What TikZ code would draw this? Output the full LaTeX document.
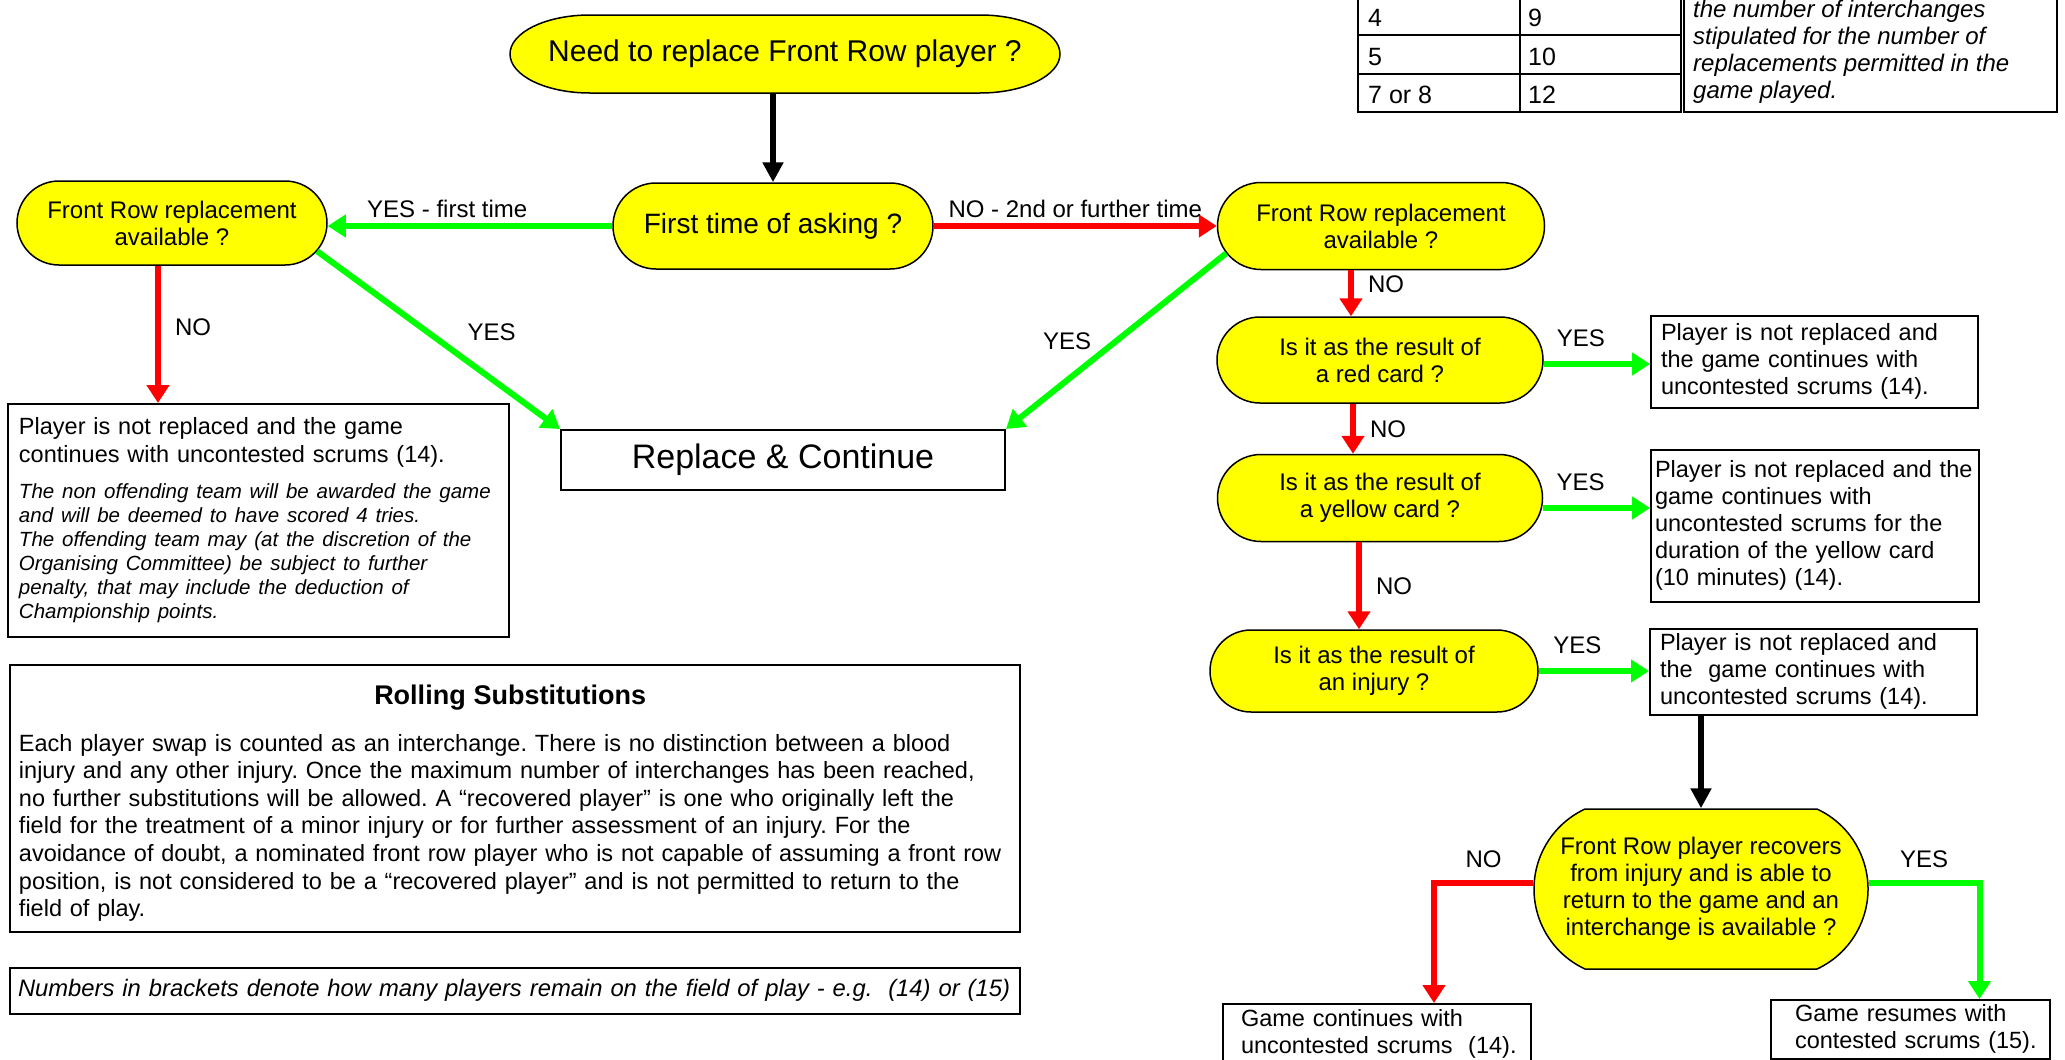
\documentclass[tikz,border=0pt]{standalone}
\usepackage{fontspec}
\setmainfont{Liberation Sans}
\usetikzlibrary{arrows.meta, shapes.misc, positioning}
\definecolor{flowyellow}{RGB}{255,255,0}
\definecolor{flowgreen}{RGB}{0,255,0}
\definecolor{flowred}{RGB}{255,0,0}
\newcommand{\fs}[2]{\fontsize{#1}{#2}\selectfont}
\newcommand{\boxlines}[1]{\begin{tabular}[t]{@{}l@{}}#1\end{tabular}}
\frenchspacing
\tikzset{
  question/.style={rounded rectangle, draw=black, line width=1.5pt, fill=flowyellow, align=center, inner sep=0pt, font={\fs{24}{27}}},
  infobox/.style={rectangle, draw=black, line width=2pt, fill=white, align=left, inner ysep=0pt, font={\fs{23.5}{27}}},
  answer/.style={inner sep=2pt, font={\fs{24}{27}}},
  yesarrow/.style={draw=flowgreen, line width=6pt, -{Triangle[length=18pt, width=22pt]}},
  noarrow/.style={draw=flowred, line width=6pt, -{Triangle[length=18pt, width=22pt]}},
  goarrow/.style={draw=black, line width=6pt, -{Triangle[length=20pt, width=20pt]}},
  tableline/.style={draw=black, line width=2pt}
}

\begin{document}
\begin{tikzpicture}[x=1pt, y=-1pt]
    \useasboundingbox (0,0) rectangle (2065,1060);

    % Prima domanda (estremi ellittici)
    \pgfmathsetmacro{\needl}{590}
    \pgfmathsetmacro{\needr}{980}
    \filldraw[draw=black, line width=1.5pt, fill=flowyellow] (\needl,15) -- (\needr,15) arc[start angle=90, end angle=-90, x radius=80pt, y radius=39pt] -- (\needl,93) arc[start angle=270, end angle=90, x radius=80pt, y radius=39pt] -- cycle;
    \node[minimum width=550pt, minimum height=78pt, inner sep=0pt, font={\fs{30}{34}}] (need) at (785,54) {Need to replace Front Row player ?};

    % Domande
    \node[question, minimum width=320pt, minimum height=86pt, font={\fs{28}{32}}] (first) at (773,226) {First time of asking ?};
    \node[question, minimum width=310pt, minimum height=84pt] (frl) at (172,223) {Front Row replacement\\available ?};
    \node[question, minimum width=327pt, minimum height=87pt] (frr) at (1381,226) {Front Row replacement\\available ?};
    \node[question, minimum width=326pt, minimum height=86pt] (redq) at (1380,360) {Is it as the result of\\a red card ?};
    \node[question, minimum width=325pt, minimum height=87pt] (yellowq) at (1380,498) {Is it as the result of\\a yellow card ?};
    \node[question, minimum width=328pt, minimum height=82pt] (injuryq) at (1374,671) {Is it as the result of\\an injury ?};
    \node[question, rounded rectangle arc length=130, minimum width=334pt, minimum height=160pt] (recover) at (1701,889) {Front Row player recovers\\from injury and is able to\\return to the game and an\\interchange is available ?};

    % Riquadri
    \node[infobox, align=center, minimum width=444pt, minimum height=60pt, font={\fs{34}{38}}] (replace) at (783,460) {Replace \& Continue};
    \node[infobox, anchor=north west, inner xsep=11pt, text width=479pt, minimum height=233pt, font={\fs{23.5}{28}}] (leftbox) at (7,403) {\boxlines{Player is not replaced and the game\\continues with uncontested scrums (14).}\par\vspace{10pt}\itshape\fs{20.5}{24}\boxlines{The non offending team will be awarded the game\\and will be deemed to have scored 4 tries.\\The offending team may (at the discretion of the\\Organising Committee) be subject to further\\penalty, that may include the deduction of\\Championship points.}\par};
    \node[infobox, anchor=north west, inner xsep=10pt, text width=307pt, minimum height=92pt] (box1) at (1650,315) {\boxlines{Player is not replaced and\\the game continues with\\uncontested scrums (14).}};
    \node[infobox, anchor=north west, inner xsep=4pt, text width=320pt, minimum height=152pt] (box2) at (1650,449) {\boxlines{Player is not replaced and the\\game continues with\\uncontested scrums for the\\duration of the yellow card\\(10 minutes) (14).}};
    \node[infobox, anchor=north west, inner xsep=10pt, text width=307pt, minimum height=86pt] (box3) at (1649,628) {\boxlines{Player is not replaced and\\the\ \ game continues with\\uncontested scrums (14).}};
    \node[infobox, anchor=north west, inner xsep=18pt, text width=272pt, minimum height=62pt] (botl) at (1222,1003) {\boxlines{Game continues with\\uncontested scrums\ \ (14).}};
    \node[infobox, anchor=north west, inner xsep=24pt, text width=231pt, minimum height=59pt] (botr) at (1770,999) {\boxlines{Game resumes with\\contested scrums (15).}};
    \node[infobox, anchor=north west, inner xsep=9pt, text width=992pt, minimum height=267pt, font={\fs{23.5}{27.6}}] (rolling) at (9,664) {\begin{tabular}[t]{@{}l@{}}\multicolumn{1}{@{}c@{}}{\rule{0pt}{32pt}\bfseries\fs{27}{30}Rolling Substitutions}\\[19.4pt]
    Each player swap is counted as an interchange. There is no distinction between a blood\\
    injury and any other injury. Once the maximum number of interchanges has been reached,\\
    no further substitutions will be allowed. A “recovered player” is one who originally left the\\
    field for the treatment of a minor injury or for further assessment of an injury. For the\\
    avoidance of doubt, a nominated front row player who is not capable of assuming a front row\\
    position, is not considered to be a “recovered player” and is not permitted to return to the\\
    field of play.\end{tabular}};
    \node[infobox, anchor=north west, inner xsep=8pt, text width=994pt, minimum height=46pt, font={\itshape\fs{23.8}{27}}] (brackets) at (9,967) {\boxlines{Numbers in brackets denote how many players remain on the field of play - e.g.\ \ (14) or (15)}};

    % Tabella (tagliata in alto)
    \draw[tableline] (1358,-5) rectangle (1681,112);
    \draw[tableline] (1520,-5) -- (1520,112);
    \draw[tableline] (1358,35) -- (1681,35);
    \draw[tableline] (1358,74) -- (1681,74);
    \draw[tableline] (1684,-5) rectangle (2057,112);
    \node[anchor=base west, inner sep=0pt, font={\fs{25}{28}}] (reps4) at (1368,27) {4};
    \node[anchor=base west, inner sep=0pt, font={\fs{25}{28}}] (swaps4) at (1528,27) {9};
    \node[anchor=base west, inner sep=0pt, font={\fs{25}{28}}] (reps5) at (1368,65) {5};
    \node[anchor=base west, inner sep=0pt, font={\fs{25}{28}}] (swaps5) at (1528,65) {10};
    \node[anchor=base west, inner sep=0pt, font={\fs{25}{28}}] (reps7) at (1368,103) {7 or 8};
    \node[anchor=base west, inner sep=0pt, font={\fs{25}{28}}] (swaps7) at (1528,103) {12};
    \node[anchor=north west, inner sep=0pt, align=left, font={\itshape\fs{24}{27}}] (stipulated) at (1693,0) {the number of interchanges\\stipulated for the number of\\replacements permitted in the\\game played.};

    % Frecce
    \draw[goarrow] (need.south -| first.north) -- (first.north);
    \draw[yesarrow] (first.west) -- (first.west -| frl.east) node[answer, above=3pt, pos=0.58] (yesfirst) {YES - first time};
    \draw[noarrow] (first.east) -- (first.east -| frr.west) node[answer, above=3pt, midway] (nosecond) {NO - 2nd or further time};
    \draw[noarrow] ([xshift=-14pt]frl.south) -- ([xshift=-14pt]frl.south |- leftbox.north) node[answer, right=12pt, pos=0.45] (nofrl) {NO};
    \draw[yesarrow] (frl.-11) -- (replace.north west) node[answer, above right=10pt, pos=0.57] (yesfrl) {YES};
    \draw[yesarrow] (frr.190) -- (replace.north east) node[answer, left=20pt, pos=0.5] (yesfrr) {YES};
    \draw[noarrow] ([xshift=-30pt]frr.south) -- ([xshift=-30pt]frr.south |- redq.north) node[answer, right=12pt, pos=0.3] (nofrr) {NO};
    \draw[yesarrow] ([yshift=-4pt]redq.east) -- ([yshift=-4pt]redq.east -| box1.west) node[answer, above=12pt, pos=0.35] (yesred) {YES};
    \draw[noarrow] ([xshift=-27pt]redq.south) -- ([xshift=-27pt]redq.south |- yellowq.north) node[answer, right=12pt, midway] (nored) {NO};
    \draw[yesarrow] ([yshift=-10pt]yellowq.east) -- ([yshift=-10pt]yellowq.east -| box2.west) node[answer, above=12pt, pos=0.35] (yesyellow) {YES};
    \draw[noarrow] ([xshift=-21pt]yellowq.south) -- ([xshift=-21pt]yellowq.south |- injuryq.north) node[answer, right=12pt, midway] (noyellow) {NO};
    \draw[yesarrow] (injuryq.east) -- (injuryq.east -| box3.west) node[answer, above=12pt, pos=0.35] (yesinjury) {YES};
    \draw[goarrow] (recover.north |- box3.south) -- (recover.north);
    \draw[noarrow] ([yshift=6pt]recover.west) -| ([xshift=57pt]botl.north) node[answer, above=10pt, pos=0.25] (norecover) {NO};
    \draw[yesarrow] ([yshift=6pt]recover.east) -| ([xshift=69pt]botr.north) node[answer, above=10pt, pos=0.25] (yesrecover) {YES};
\end{tikzpicture}
\end{document}
